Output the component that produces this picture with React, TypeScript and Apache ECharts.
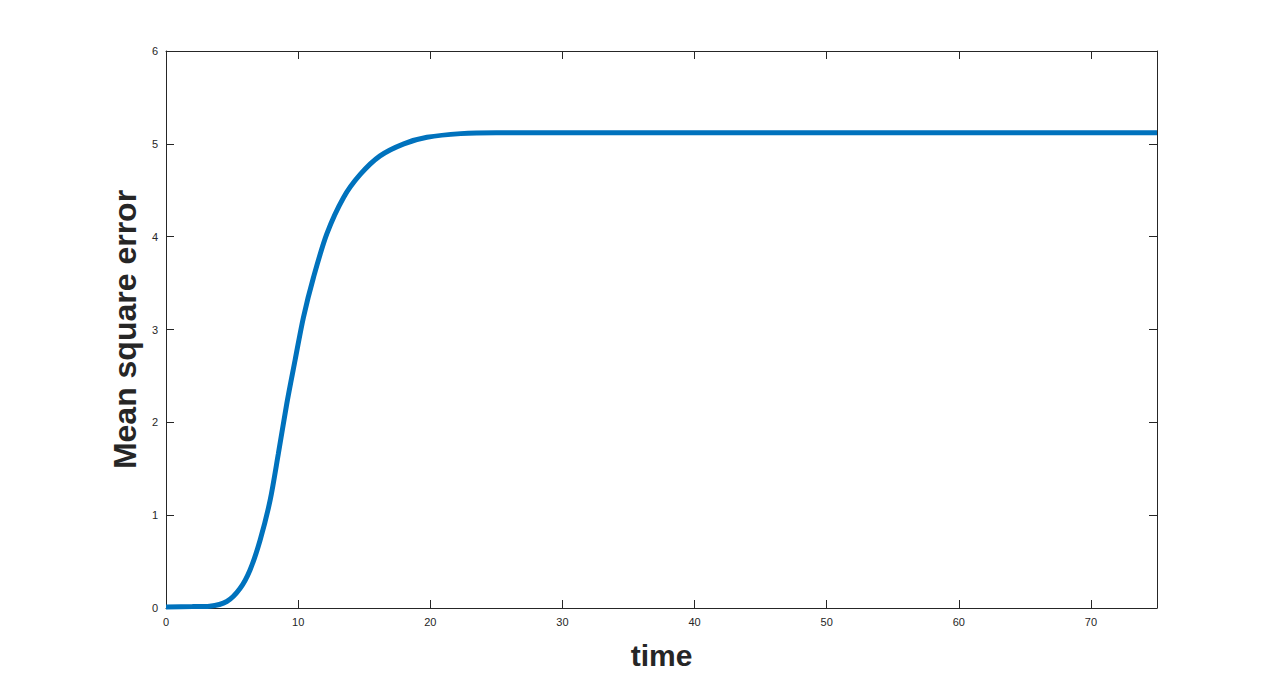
import React, { useEffect, useRef } from "react";
import * as echarts from "echarts";

const timeValues = [0, 2, 3.3, 4.6, 5.6, 6.36, 7.12, 7.88, 8.5, 9.14, 9.77, 10.4, 11.16, 12.17, 13.43, 14.7, 16.2, 18, 19.75, 22.3, 25, 30, 40, 50, 60, 70, 75];
const mseValues = [0.01, 0.015, 0.02, 0.07, 0.21, 0.41, 0.73, 1.16, 1.66, 2.2, 2.67, 3.13, 3.56, 4.03, 4.42, 4.67, 4.87, 5.0, 5.07, 5.11, 5.12, 5.12, 5.12, 5.12, 5.12, 5.12, 5.12];
const xTitle = "time";
const yTitle = "Mean square error";

export default function App() {
  const ref = useRef<HTMLDivElement>(null);
  useEffect(() => {
    document.body.style.margin = "0";
    const chart = echarts.init(ref.current!, null, { renderer: "svg" });
    const axisLine = { show: true, onZero: false, lineStyle: { color: "#262626", width: 1 } };
    const tickIn = { show: true, inside: true, length: 8, lineStyle: { color: "#262626" } };
    const label = { color: "#262626", fontSize: 11, fontFamily: "Liberation Sans, Arial, sans-serif" };
    const titleStyle = { color: "#262626", fontSize: 30, fontWeight: "bold", fontFamily: "Liberation Sans, Arial, sans-serif" };
    chart.setOption({
      animation: false,
      backgroundColor: "#ffffff",
      grid: { left: 166, top: 51, right: 123, bottom: 75 },
      xAxis: [
        {
          type: "value", min: 0, max: 75, interval: 10, position: "bottom",
          axisLine, axisTick: tickIn, splitLine: { show: false },
          axisLabel: { ...label, margin: 8, showMaxLabel: false },
          name: xTitle, nameLocation: "middle", nameGap: 32, nameTextStyle: titleStyle,
        },
        {
          type: "value", min: 0, max: 75, interval: 10, position: "top",
          axisLine, axisTick: tickIn, splitLine: { show: false }, axisLabel: { show: false },
        },
      ],
      yAxis: [
        {
          type: "value", min: 0, max: 6, interval: 1, position: "left",
          axisLine, axisTick: tickIn, splitLine: { show: false },
          axisLabel: { ...label, margin: 8 },
          name: yTitle, nameLocation: "middle", nameGap: 20, nameTextStyle: { ...titleStyle, fontSize: 32 },
        },
        {
          type: "value", min: 0, max: 6, interval: 1, position: "right",
          axisLine, axisTick: tickIn, splitLine: { show: false }, axisLabel: { show: false },
        },
      ],
      series: [
        {
          type: "line",
          data: timeValues.map((t, i) => [t, mseValues[i]]),
          smooth: 0.3,
          showSymbol: false,
          symbol: "none",
          clip: true,
          lineStyle: { color: "#0072BD", width: 5 },
        },
      ],
    });
    return () => chart.dispose();
  }, []);
  return <div ref={ref} style={{ width: 1280, height: 683 }} />;
}
